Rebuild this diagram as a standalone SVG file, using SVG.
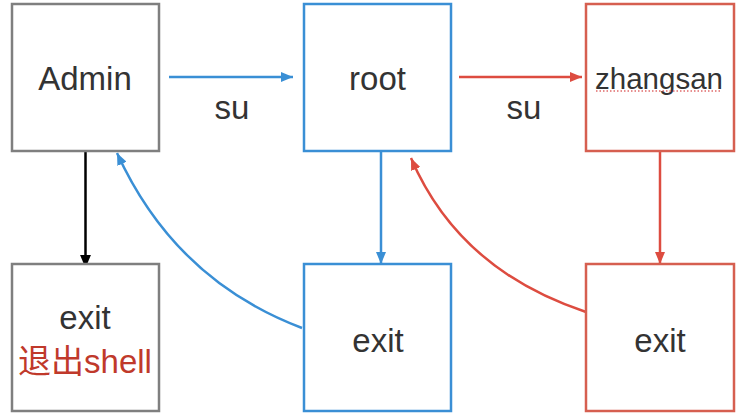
<svg xmlns="http://www.w3.org/2000/svg" width="754" height="419" viewBox="0 0 754 419">
<style>
.box{fill:#fff;stroke-width:2.5}
.gray{stroke:#7f7f7f}
.blue{stroke:#3a8fd5}
.red{stroke:#d65f50}
.t{font-family:"Liberation Sans",Arial,"Noto Sans CJK SC",sans-serif;font-size:33px;fill:#333;text-anchor:middle}
.edge{fill:none;stroke-width:2.5}
</style>
<defs>
<marker id="ab" viewBox="0 0 12 10" refX="12" refY="5" markerWidth="12" markerHeight="10" markerUnits="userSpaceOnUse" orient="auto"><path d="M0,0 L12,5 L0,10 Z" fill="#3a8fd5"/></marker>
<marker id="ar" viewBox="0 0 12 10" refX="12" refY="5" markerWidth="12" markerHeight="10" markerUnits="userSpaceOnUse" orient="auto"><path d="M0,0 L12,5 L0,10 Z" fill="#dd4c40"/></marker>
<marker id="ak" viewBox="0 0 12 10" refX="12" refY="5" markerWidth="13" markerHeight="11" markerUnits="userSpaceOnUse" orient="auto"><path d="M0,0 L12,5 L0,10 Z" fill="#000"/></marker>
</defs>
<rect width="754" height="419" fill="#fff"/>
<g id="edges">
<path class="edge" d="M169,77 L293,77" stroke="#3a8fd5" marker-end="url(#ab)"/>
<path class="edge" d="M459,77 L582,77" stroke="#dd4c40" marker-end="url(#ar)"/>
<path class="edge" d="M85.5,145 L85.5,268" stroke="#000" marker-end="url(#ak)"/>
<path class="edge" d="M381,145 L381,264" stroke="#3a8fd5" marker-end="url(#ab)"/>
<path class="edge" d="M660,145 L660,264" stroke="#dd4c40" marker-end="url(#ar)"/>
<path class="edge" d="M302,328 Q175,280 117,153" stroke="#3a8fd5" stroke-width="2" marker-end="url(#ab)"/>
<path class="edge" d="M586,312 Q459,270 411,158" stroke="#dd4c40" stroke-width="2" marker-end="url(#ar)"/>
<text class="t" x="232" y="119">su</text>
<text class="t" x="524" y="119">su</text>
</g>
<g id="admin">
<rect class="box gray" x="12" y="4" width="147" height="147"/>
<text class="t" x="85" y="90">Admin</text>
</g>
<g id="root">
<rect class="box blue" x="304" y="4" width="147" height="147"/>
<text class="t" x="377.5" y="90">root</text>
</g>
<g id="zhangsan">
<rect class="box red" x="586" y="4" width="148" height="147"/>
<text class="t" x="659" y="89" style="font-size:29.5px">zhangsan</text>
<line x1="596" y1="91" x2="722" y2="91" stroke="#e06a6a" stroke-width="1.5" stroke-dasharray="1.5,2"/>
</g>
<g id="exit1">
<rect class="box gray" x="12" y="264" width="147" height="147"/>
<text class="t" x="85" y="329">exit</text>
<text class="t" x="85" y="373" style="fill:#c0392b">退出shell</text>
</g>
<g id="exit2">
<rect class="box blue" x="304" y="264" width="147" height="147"/>
<text class="t" x="378" y="352">exit</text>
</g>
<g id="exit3">
<rect class="box red" x="586" y="264" width="148" height="147"/>
<text class="t" x="660" y="352">exit</text>
</g>
</svg>
